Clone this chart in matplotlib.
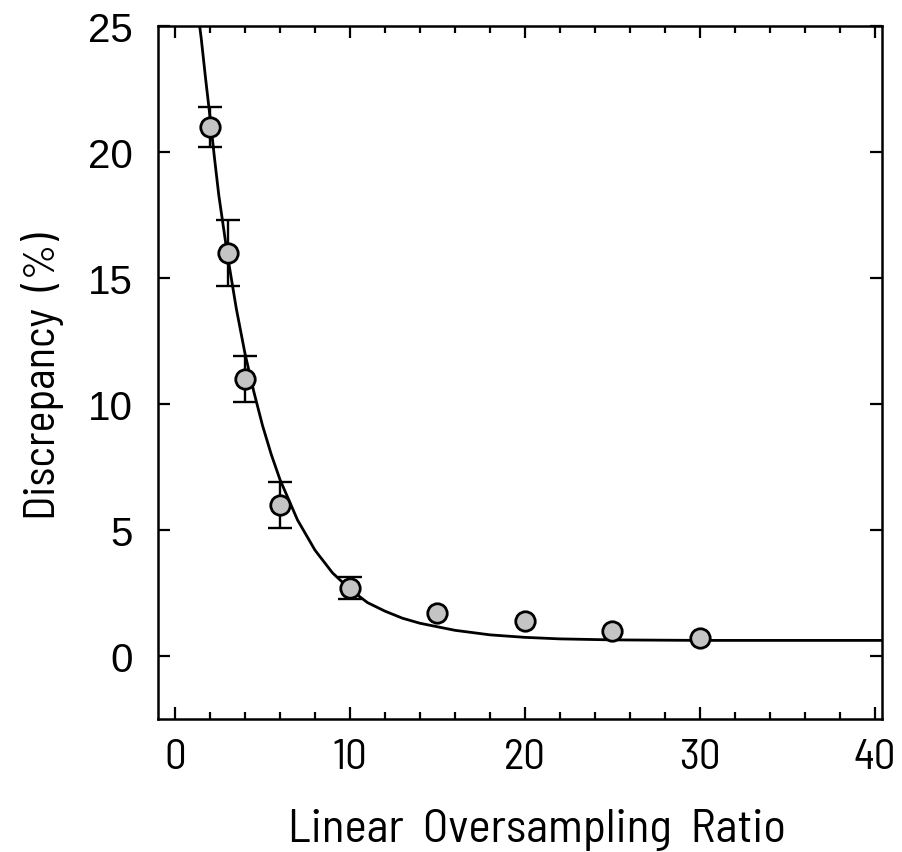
import matplotlib
matplotlib.use('Agg')
import matplotlib.pyplot as plt
from matplotlib.ticker import MultipleLocator

# Measured points
ratio = [2, 3, 4, 6, 10, 15, 20, 25, 30]
discrepancy = [21.0, 16.0, 11.0, 6.0, 2.7, 1.7, 1.4, 1.0, 0.7]

# Error bars exist only for the first five points
err_ratio = [2, 3, 4, 6, 10]
err_value = [21.0, 16.0, 11.0, 6.0, 2.7]
err_size = [0.8, 1.3, 0.9, 0.9, 0.45]

# Fitted curve
curve_x = [1.3, 1.5, 1.75, 2, 2.25, 2.5, 2.75, 3, 3.5, 4, 4.5, 5, 5.5, 6, 7, 8, 9,
           10, 11, 12, 13, 14, 16, 18, 20, 22, 25, 30, 35, 41]
curve_y = [25.6, 24.5, 22.9, 21.4, 19.8, 18.3, 17.1, 15.9, 13.8, 12.0, 10.5, 9.15, 8.0,
           7.0, 5.4, 4.2, 3.3, 2.65, 2.12, 1.78, 1.5, 1.3, 1.02, 0.84, 0.74, 0.68,
           0.64, 0.62, 0.62, 0.62]

narrow = ['Barlow Semi Condensed', 'Barlow Condensed', 'DejaVu Sans']

fig = plt.figure(figsize=(9.02, 8.53), dpi=100)
ax = fig.add_axes([0.1752, 0.1559, 0.8026, 0.8124])

ax.plot(curve_x, curve_y, color='black', lw=2.0, zorder=2)
ax.errorbar(err_ratio, err_value, yerr=err_size, fmt='none', ecolor='black',
            elinewidth=1.7, capsize=8.5, capthick=1.7, zorder=3)
ax.plot(ratio, discrepancy, 'o', ms=14, mfc='#c4c4c4', mec='black', mew=2.0,
        zorder=4, clip_on=False)

ax.set_xlim(-0.97, 40.4)
ax.set_ylim(-2.5, 25)

ax.xaxis.set_major_locator(MultipleLocator(10))
ax.xaxis.set_minor_locator(MultipleLocator(2))
ax.yaxis.set_major_locator(MultipleLocator(5))

ax.tick_params(which='both', direction='in', top=True, right=True, width=1.6)
ax.tick_params(which='major', length=8.5)
ax.tick_params(which='minor', length=5)
ax.tick_params(axis='y', pad=18, labelsize=29)
ax.tick_params(axis='x', pad=14, labelsize=31)
for lab in ax.get_xticklabels():
    lab.set_family(narrow)
for lab in ax.get_yticklabels():
    lab.set_family(['Liberation Sans', 'DejaVu Sans'])

for s in ax.spines.values():
    s.set_linewidth(1.8)

ax.set_xlabel('Linear  Oversampling  Ratio', fontsize=34, family=narrow)
ax.set_ylabel('Discrepancy  (%)', fontsize=32, family=narrow)
ax.xaxis.label.set_va('baseline')
ax.yaxis.label.set_va('baseline')
ax.xaxis.set_label_coords(0.524, -0.176)
ax.yaxis.set_label_coords(-0.142, 0.496)

fig.savefig('out.png', dpi=100)
